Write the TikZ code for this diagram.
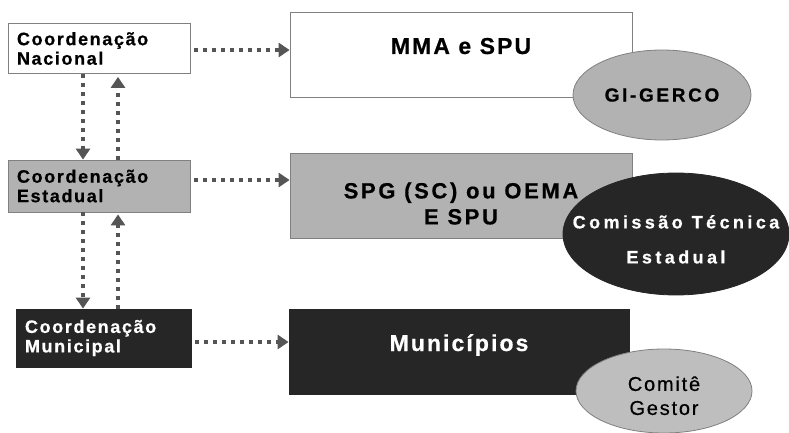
\documentclass[tikz,border=0pt]{standalone}
\usepackage{fontspec}
\setmainfont{Liberation Sans}
\newfontfamily\labelfont[LetterSpace=9,FakeBold=0.6]{Liberation Sans Bold}
\newfontfamily\plainfont[LetterSpace=9,FakeBold=0.6]{Liberation Sans}
\usetikzlibrary{arrows.meta,shapes.geometric}
\definecolor{framegray}{RGB}{128,128,128}
\definecolor{fillgray}{RGB}{178,178,178}
\definecolor{lightgray}{RGB}{190,190,190}
\definecolor{darkfill}{RGB}{38,38,38}
\definecolor{arrowgray}{RGB}{85,85,85}

\begin{document}
\begin{tikzpicture}[x=1pt,y=-1pt,
  coordbox/.style={draw=framegray, line width=0.8pt, minimum width=182pt, minimum height=50pt,
    text width=164pt, inner xsep=9pt, align=left, font=\labelfont\fontsize{18}{19.5}\selectfont},
  bigbox/.style={draw=framegray, line width=0.8pt, minimum width=342pt, minimum height=85pt,
    align=center, font=\labelfont\fontsize{23}{26}\selectfont},
  blob/.style={ellipse, draw=framegray, line width=0.8pt, inner sep=0pt, align=center},
  flow/.style={draw=arrowgray, line width=4pt, dash pattern=on 4pt off 5pt,
    -{Triangle[width=14pt,length=11pt]}}]
   \useasboundingbox (0,0) rectangle (789,433);

   % nivel nacional
   \node[coordbox, fill=white] (nac) at (99,48.5) {Coordenação\\Nacional};
   \node[bigbox, fill=white, text height=17pt, text depth=18pt] (mma) at (461,54.5) {MMA e SPU};
   \node[blob, fill=fillgray, minimum width=178pt, minimum height=90pt,
     font=\labelfont\addfontfeature{LetterSpace=14}\fontsize{19}{21}\selectfont] (gerco) at (662,95) {GI-GERCO};

   % nivel estadual
   \node[coordbox, fill=fillgray, minimum height=52pt] (est) at (99,186) {Coordenação\\Estadual};
   \node[bigbox, fill=fillgray, font=\labelfont\addfontfeature{LetterSpace=12}\fontsize{22}{26}\selectfont]
     (spg) at (461,195.5) {\rule{0pt}{32pt}SPG (SC) ou OEMA\\E SPU};
   \node[blob, draw=darkfill, fill=darkfill, text=white, minimum width=226pt, minimum height=122pt,
     font=\labelfont\addfontfeature{LetterSpace=19}\fontsize{18}{35}\selectfont] (cte) at (676,234)
     {\rule{0pt}{24pt}\makebox[0pt]{Comissão\hspace{0.5em}Técnica}\\\makebox[0pt]{Estadual}};

   % nivel municipal
   \node[coordbox, draw=darkfill, fill=darkfill, text=white, minimum width=175pt, minimum height=58pt,
     text width=157pt] (mun) at (103.5,338) {Coordenação\\Municipal};
   \node[bigbox, draw=darkfill, fill=darkfill, text=white, minimum width=340pt,
     text height=19pt, text depth=20pt] (munic) at (459,351.5) {Municípios};
   \node[blob, fill=lightgray, minimum width=176pt, minimum height=84pt,
     font=\plainfont\fontsize{20}{24}\selectfont] (cg) at (664,391) {\rule{0pt}{24pt}Comitê\\Gestor};

   % setas horizontais
   \draw[flow, shorten <=4pt] ([yshift=-1.5pt]nac.east) -- ([yshift=-1.5pt]nac.east -| mma.west);
   \draw[flow, shorten <=4pt] ([yshift=6pt]est.east) -- ([yshift=6pt]est.east -| spg.west);
   \draw[flow, shorten <=4pt] ([yshift=-4pt]mun.east) -- ([yshift=-4pt]mun.east -| munic.west);

   % setas verticais
   \draw[flow] ([xshift=-16pt]nac.south) -- ([xshift=-16pt]nac.south |- est.north);
   \draw[flow, shorten >=3pt] ([xshift=19pt]nac.south |- est.north) -- ([xshift=19pt]nac.south);
   \draw[flow] ([xshift=-16pt]est.south) -- ([xshift=-16pt]est.south |- mun.north);
   \draw[flow, shorten >=2pt] ([xshift=19pt]est.south |- mun.north) -- ([xshift=19pt]est.south);
\end{tikzpicture}
\end{document}
